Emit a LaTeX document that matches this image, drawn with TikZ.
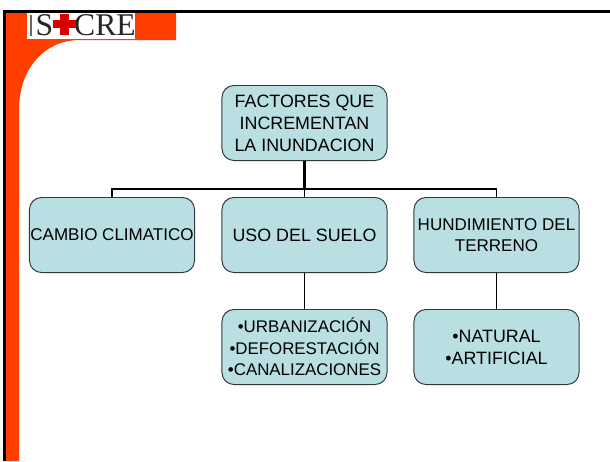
\documentclass[tikz,border=0pt]{standalone}
\usepackage{fontspec}
\setmainfont{Liberation Sans}
\newfontfamily\logofont{Liberation Serif}
\definecolor{slideorange}{HTML}{FF3F00}
\definecolor{boxblue}{HTML}{B9DFE3}
\definecolor{boxline}{HTML}{2E3A3C}
\tikzset{
    factorbox/.style={draw=boxline, fill=boxblue, rounded corners=3mm, line width=0.7pt,
        minimum width=4.125cm, minimum height=1.875cm, align=center, inner sep=0pt,
        font=\fontsize{12.7}{15.6}\selectfont},
    logotext/.style={font=\logofont\fontsize{22.5}{23}\selectfont, text=black!85, inner sep=0pt},
    treeline/.style={black, line width=1.1pt},
    dropline/.style={black, line width=1.4pt}
}
\begin{document}
\begin{tikzpicture}[x=0.025cm, y=-0.025cm]
    \useasboundingbox (0,0) rectangle (610,461);
    % Slide background
    \fill[white] (0,0) rectangle (610,461);
    \fill[slideorange] (5,12) -- (176,12) -- (176,40) -- (80,40)
        .. controls (45,40) and (19,68) .. (19,110) -- (19,461) -- (5,461) -- cycle;
    \draw[black, line width=2.2pt] (4.5,461) -- (4.5,11.5) -- (610,11.5);

    % Logo
    \fill[white] (27,13) rectangle (135,39);
    \node[logotext] (logos) at (44.5,25) {S};
    \node[logotext] (logocre) at (105,25) {CRE};
    \fill[red!85!black] (53,19.5) rectangle (76,28);
    \fill[red!85!black] (60,14) rectangle (68.5,35);
    \draw[black!60, line width=0.9pt] (31,15) -- (31,36);

    % Factors
    \node[factorbox] (factores) at (304.5,123) {FACTORES QUE\\INCREMENTAN\\LA INUNDACION};
    \node[factorbox, font=\fontsize{12.1}{15}\selectfont] (clima) at (112,235) {CAMBIO CLIMATICO};
    \node[factorbox] (suelo) at (304.5,235) {USO DEL SUELO};
    \node[factorbox, font=\fontsize{12.1}{14.5}\selectfont] (hundimiento) at (496.5,235) {HUNDIMIENTO DEL\\TERRENO};
    \node[factorbox, font=\fontsize{12}{15.3}\selectfont] (usos) at (304.5,347) {\textbullet URBANIZACIÓN\\\textbullet DEFORESTACIÓN\\\textbullet CANALIZACIONES};
    \node[factorbox] (causas) at (496.5,347) {\textbullet NATURAL\\\textbullet ARTIFICIAL};

    % Connectors
    \coordinate (bus) at (304.5,189);
    \draw[treeline, line width=2pt] (factores.south) -- (bus);
    \draw[treeline] (clima.north) |- (bus) -| (hundimiento.north);
    \draw[treeline] (bus) -- (suelo.north);
    \draw[dropline] (suelo.south) -- (usos.north);
    \draw[dropline] (hundimiento.south) -- (causas.north);
\end{tikzpicture}
\end{document}
